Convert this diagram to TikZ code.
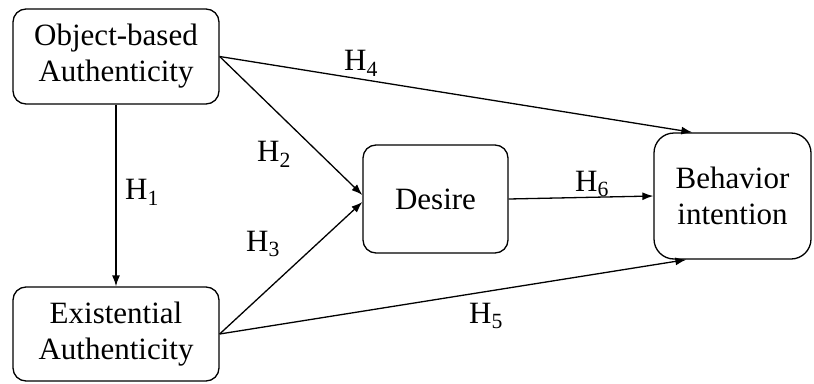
\documentclass[tikz,border=0pt]{standalone}
\usepackage{fontspec}
\setmainfont{Liberation Serif}
\usetikzlibrary{arrows.meta,calc}
\tikzstyle{line} = [draw, -{Latex[length=11pt,width=8pt]}, line width=1.3pt]
\tikzstyle{block} = [draw, rectangle, rounded corners=13pt, align=center, line width=1.3pt, inner sep=0pt]
\tikzstyle{hyp} = [inner sep=0pt]

\begin{document}
\begin{tikzpicture}[x=1pt, y=-1pt, font=\rmfamily\fontsize{31}{36}\selectfont]
        \useasboundingbox (0,0) rectangle (814,383);
        \node[block, minimum width=206pt, minimum height=95pt] (object) at (116,56.5) {Object-based\\Authenticity};
        \node[block, minimum width=206pt, minimum height=94pt] (exist) at (116,334) {Existential\\Authenticity};
        \node[block, minimum width=145pt, minimum height=108pt] (desire) at (435.5,199) {Desire};
        \node[block, rounded corners=20pt, minimum width=157pt, minimum height=126pt] (behavior) at (732.5,196) {Behavior\\intention};
        % end points on the box sides
        \coordinate (h2end) at ($(desire.west)+(0,-4)$);
        \coordinate (h3end) at ($(desire.west)+(0,3)$);
        \coordinate (h4end) at ($(behavior.north west)+(39,0)$);
        \coordinate (h5end) at ($(behavior.south west)+(33,0)$);
        % hypothesis labels
        \node[hyp] (h1) at (142,192) {H\textsubscript{1}};
        \node[hyp] (h2) at (274,154) {H\textsubscript{2}};
        \node[hyp] (h3) at (263,244) {H\textsubscript{3}};
        \node[hyp] (h4) at (361,63) {H\textsubscript{4}};
        \node[hyp] (h5) at (486,316) {H\textsubscript{5}};
        \node[hyp] (h6) at (592,184) {H\textsubscript{6}};
        \path[line] (object) -- (exist);
        \path[line] (object.east) -- (h2end);
        \path[line] (exist.east) -- (h3end);
        \path[line] (object.east) -- (h4end);
        \path[line] (exist.east) -- (h5end);
        \path[line] (desire.east) -- (behavior.west);
    \end{tikzpicture}
\end{document}
